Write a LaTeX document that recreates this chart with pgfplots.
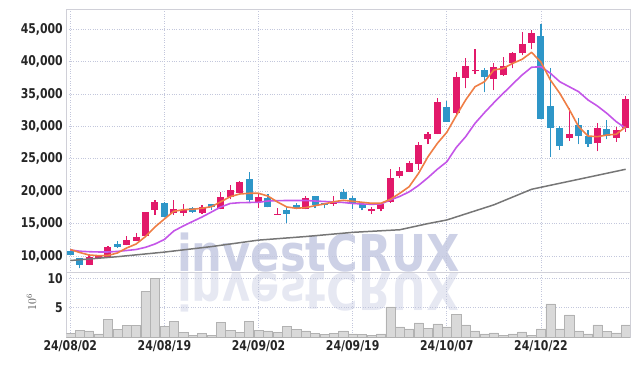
\documentclass[border=0pt]{standalone}
\usepackage{fontspec}
\setmainfont{DejaVu Sans Condensed}[FakeStretch=0.9]
\newfontfamily\wmfont{DejaVu Sans}
\usepackage{pgfplots}
\usepackage{pgfplotstable}
\pgfplotsset{compat=1.18}
\definecolor{upc}{HTML}{E2196A}
\definecolor{dnc}{HTML}{2E96C8}
\definecolor{maa}{HTML}{EF7E45}
\definecolor{mab}{HTML}{C455E8}
\definecolor{mac}{HTML}{767676}
\definecolor{gridc}{HTML}{C3C7DC}
\definecolor{wm}{HTML}{CDD1E6}
\definecolor{axc}{HTML}{D0D0D8}

\pgfplotstableread{
i o h l c
2 8660 10260 8600 9800
3 9740 10100 9700 10050
4 9890 11500 9850 11390
6 11750 13040 11650 12520
7 12360 13550 12300 12930
8 13040 16850 13000 16790
9 17150 18690 16380 18380
11 16690 18650 16330 17260
12 16690 17980 16180 17100
14 16590 17830 16550 17570
16 17300 19930 17200 19110
17 19160 20960 18760 20190
18 19770 21630 19700 21430
20 18340 19680 17370 19160
22 16380 17370 16350 16530
25 17300 19260 17200 18910
28 18080 19260 17720 18490
32 16900 17570 16490 17300
33 17300 18100 16900 17980
34 18290 23390 18250 22040
35 22350 23790 22000 23120
36 23020 24670 22950 24360
37 24250 27560 23280 27140
38 28020 29190 27290 28880
39 28880 34350 28800 33780
41 32030 38460 31950 37590
42 37530 40530 35890 39340
43 38560 41910 38100 38720
45 37380 39750 35630 39140
46 37900 40680 37800 39290
47 39750 41540 38980 41300
48 41300 44630 41030 42690
49 42930 44890 41910 44390
53 28170 32810 27800 28840
56 27400 30490 26210 29720
58 28220 29960 27650 29450
59 29700 34700 29190 34240
}\tabup

\pgfplotstableread{
i o h l c
0 10770 11080 10100 10150
1 9650 9740 8100 8610
5 11850 12270 11280 11440
10 18230 18260 16000 16070
13 17370 17610 16690 16840
15 18080 18100 17100 17610
19 21890 23020 18140 18650
21 18960 19570 17500 17520
23 17100 17720 15050 16490
24 17830 18230 17200 17410
26 19260 19300 17370 17920
27 18140 18180 17370 17830
29 19930 20300 18750 18800
30 18960 19260 17210 18140
31 18030 18100 17060 17370
40 33050 33930 30700 30740
44 38720 38980 35280 37680
50 43970 45820 31100 31200
51 33160 38980 25330 29810
52 29810 30070 26370 26980
54 30230 31260 27290 28570
55 28480 29450 26880 27290
57 29610 31000 28020 28530
}\tabdown

\pgfplotstableread{
i a b
0 11000 10930
1 10540 10740
2 10150 10660
3 10050 10620
4 10080 10620
5 10460 10700
6 11240 10850
7 11850 11000
8 13010 11340
9 14480 11850
10 15710 12550
11 16900 13860
12 17150 14630
13 17210 15330
14 17370 16020
15 17610 16790
16 18380 17570
17 19160 18110
18 19570 18230
19 19680 18260
20 19680 18290
21 19250 18490
22 18350 18540
23 17570 18570
24 17370 18570
25 17460 18570
26 17770 18490
27 18030 18420
28 18380 18340
29 18600 18260
30 18450 18110
31 18290 18030
32 18140 17980
33 18140 18030
34 18750 18650
35 19680 19200
36 20700 19900
37 22770 20900
38 25330 22100
39 27400 23400
40 29100 24550
41 31660 26750
42 34090 28420
43 36140 30490
44 36910 32130
45 38720 33670
46 38980 35120
47 39750 36560
48 40370 37950
49 41450 39140
50 39950 39230
51 37180 38210
52 35120 36910
53 32650 36140
54 29960 35370
55 28530 34090
56 28420 33160
57 28680 32030
58 28790 30740
59 29960 29720
}\tabma

\pgfplotstableread{
i g
0 9300
5 9890
10 10600
15 11450
20 12450
25 13000
30 13650
35 14050
38 15000
40 15560
45 17900
49 20300
55 22150
59 23390
}\tabg

\pgfplotstableread{
i v
0 0.68
1 1.19
2 1.07
3 0.56
4 3.05
5 1.36
6 2.03
7 2.03
8 7.8
9 10.0
10 1.86
11 2.71
12 0.85
13 0.34
14 0.68
15 0.34
16 2.54
17 1.19
18 0.85
19 2.71
20 1.19
21 1.07
22 0.85
23 1.86
24 1.36
25 1.07
26 0.68
27 0.45
28 0.68
29 1.07
30 0.56
31 0.45
32 0.34
33 0.56
34 5.14
35 1.75
36 1.41
37 2.43
38 1.53
39 2.26
40 1.75
41 3.95
42 2.09
43 1.07
44 0.56
45 0.73
46 0.34
47 0.56
48 0.9
49 0.34
50 1.41
51 5.65
52 1.41
53 3.79
54 1.07
55 0.56
56 2.09
57 0.96
58 0.73
59 2.09
}\tabvol

\pgfplotsset{
  cstyle/.style={
    scale only axis, anchor=south west, width=563.7bp,
    xmin=-0.42, xmax=59.46,
    axis line style={draw=axc},
    major tick length=0pt,
    grid=major,
    major grid style={draw=gridc, dotted, line width=0.7pt},
    tick label style={font=\fontsize{13.5}{14}\bfseries\selectfont, text=black!85},
    /pgf/number format/assume math mode=true,
    xtick={0,10,20,30,40,50},
  },
  candle/.style 2 args={only marks, mark=*, mark size=0pt, mark options={draw=none, fill=none}, forget plot,
    error bars/.cd, y dir=plus, y explicit, error mark=none,
    error bar style={line width=#1, color=#2}},
}

\begin{document}
\begin{tikzpicture}
\path[use as bounding box] (0bp,0bp) rectangle (639bp,366bp);
\node[anchor=base west, inner sep=0pt, text=wm, xscale=0.85,
  font=\wmfont\bfseries\fontsize{51}{51}\selectfont] at (177bp,94.5bp) {investCRUX};
\node[anchor=base west, inner sep=0pt, text=wm, opacity=0.5, xscale=0.85, yscale=-1,
  font=\wmfont\bfseries\fontsize{51}{51}\selectfont] at (177bp,92.5bp) {investCRUX};

\begin{axis}[cstyle, at={(66.3bp,93.7bp)}, height=263.3bp,
  ymin=7480, ymax=48140,
  ytick={10000,15000,...,45000},
  xticklabels={},
  yticklabel style={/pgf/number format/.cd, 1000 sep={,}},
  scaled y ticks=false,
]
\addplot[candle={1.2pt}{upc}]
  table[x=i, y=l, y error expr=\thisrow{h}-\thisrow{l}] {\tabup};
\addplot[candle={1.2pt}{dnc}]
  table[x=i, y=l, y error expr=\thisrow{h}-\thisrow{l}] {\tabdown};
\addplot[candle={7pt}{upc}]
  table[x=i, y=o, y error expr=\thisrow{c}-\thisrow{o}] {\tabup};
\addplot[candle={7pt}{dnc}]
  table[x=i, y=c, y error expr=\thisrow{o}-\thisrow{c}] {\tabdown};
\addplot[mac, line width=1.5pt, line join=round, mark=none] table[x=i, y=g] {\tabg};
\addplot[mab, line width=1.6pt, line join=round, mark=none] table[x=i, y=b] {\tabma};
\addplot[maa, line width=1.6pt, line join=round, mark=none] table[x=i, y=a] {\tabma};
\end{axis}

\begin{axis}[cstyle, at={(66.3bp,28.7bp)}, height=65bp,
  ymin=0, ymax=11.02,
  ytick={5,10},
  xticklabels={24/08/02,24/08/19,24/09/02,24/09/19,24/10/07,24/10/22},
  ylabel={$10^6$},
  ylabel style={at={(axis description cs:-0.062,0.54)}, anchor=center, font=\fontsize{12}{12}\selectfont, text=black!70},
]
\addplot[ybar, bar width=0.97, fill=black!15, draw=black!30, line width=0.5pt] table[x=i, y=v] {\tabvol};
\end{axis}
\end{tikzpicture}
\end{document}
